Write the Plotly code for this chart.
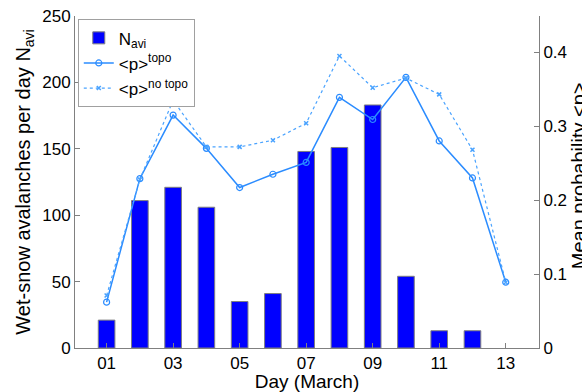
import plotly.graph_objects as go

bar_days = [1, 2, 3, 4, 5, 6, 7, 8, 9, 10, 11, 12]
n_avi = [21, 111, 121, 106, 35, 41, 148, 151, 183, 54, 13, 13]

line_days = [1, 2, 3, 4, 5, 6, 7, 8, 9, 10, 11, 12, 13]
p_topo = [0.062, 0.229, 0.315, 0.270, 0.217, 0.235, 0.251, 0.339, 0.309, 0.366, 0.280, 0.230, 0.089]
p_notopo = [0.071, 0.228, 0.335, 0.272, 0.272, 0.281, 0.304, 0.395, 0.352, 0.365, 0.343, 0.268, 0.089]

tick_vals = [1, 3, 5, 7, 9, 11, 13]
tick_text = ["01", "03", "05", "07", "09", "11", "13"]

FONT = "Liberation Sans, Arial, sans-serif"
AX = "#808080"

fig = go.Figure()
fig.add_trace(go.Bar(
    x=bar_days, y=n_avi, name="N<sub>avi</sub>", width=0.5,
    marker=dict(color="#0000FF", line=dict(color="#7f7f7f", width=1)),
    yaxis="y"))
fig.add_trace(go.Scatter(
    x=line_days, y=p_topo, name="&lt;p&gt;<sup>topo</sup>", mode="lines+markers",
    line=dict(color="#2b8cff", width=1.5),
    marker=dict(symbol="circle-open", size=6, color="#2b8cff", line=dict(width=1.2)),
    yaxis="y2"))
fig.add_trace(go.Scatter(
    x=line_days, y=p_notopo, name="&lt;p&gt;<sup>no topo</sup>", mode="lines+markers",
    line=dict(color="#4aa3ff", width=1.2, dash="dot"),
    marker=dict(symbol="x-thin-open", size=4, color="#4aa3ff", line=dict(width=1.5, color="#4aa3ff")),
    yaxis="y2"))

fig.update_layout(
    width=582, height=392,
    margin=dict(l=75, r=43, t=16, b=44, autoexpand=False),
    paper_bgcolor="white", plot_bgcolor="white",
    font=dict(family=FONT, size=17, color="black"),
    showlegend=True,
    legend=dict(x=0.006, y=0.99, xanchor="left", yanchor="top",
                bgcolor="white", bordercolor="#a0a0a0", borderwidth=1,
                font=dict(size=17), tracegroupgap=0, itemwidth=30),
    xaxis=dict(range=[0.05, 14], tickvals=tick_vals, ticktext=tick_text,
               showgrid=False, zeroline=False, showline=True, linecolor=AX, linewidth=1,
               ticks="inside", ticklen=5, tickcolor=AX, mirror=False,
               title=dict(text="Day (March)", font=dict(size=19), standoff=3),
               tickfont=dict(size=17)),
    yaxis=dict(range=[0, 250], dtick=50, showgrid=False, zeroline=False,
               showline=True, linecolor=AX, linewidth=1,
               ticks="inside", ticklen=5, tickcolor=AX,
               title=dict(text="Wet-snow avalanches per day N<sub>avi</sub>", font=dict(size=20), standoff=6),
               tickfont=dict(size=17)),
    yaxis2=dict(range=[0, 0.449], tickvals=[0, 0.1, 0.2, 0.3, 0.4],
                ticktext=["0", "0.1", "0.2", "0.3", "0.4"],
                overlaying="y", side="right", showgrid=False, zeroline=False,
                showline=True, linecolor=AX, linewidth=1,
                ticks="inside", ticklen=5, tickcolor=AX,
                tickfont=dict(size=17)),
    annotations=[dict(text="Mean probability &lt;p&gt;", xref="paper", yref="paper",
                      x=1.086, y=0.52, xanchor="center", yanchor="middle",
                      textangle=-90, showarrow=False, font=dict(size=20))],
    bargap=0.5,
)

fig.write_html("out.html", config={"displayModeBar": False},
               post_script="document.body.style.margin='0';document.body.style.overflow='hidden';")
